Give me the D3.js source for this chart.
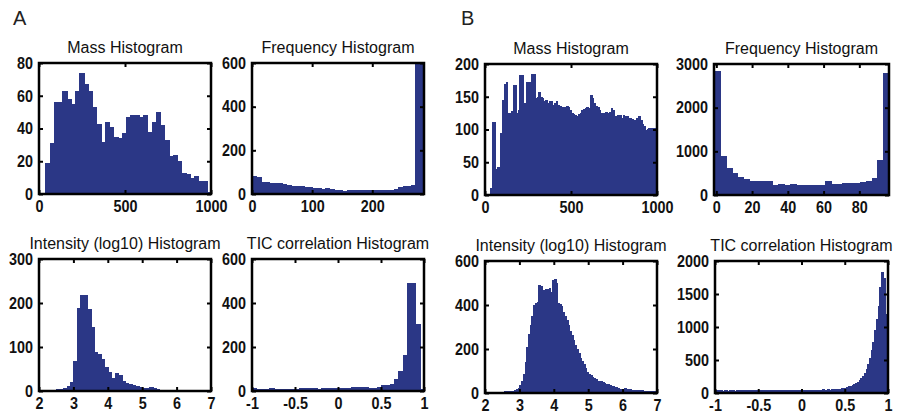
<!DOCTYPE html>
<html>
<head>
<meta charset="utf-8">
<script src="https://cdn.jsdelivr.net/npm/d3@7"></script>
<style>
  body { margin: 0; background: #fff; }
  svg { display: block; }
  .title { font-family: "Liberation Sans", Arial, sans-serif; font-size: 16px; fill: #111; }
  .letter { font-family: "Liberation Sans", Arial, sans-serif; font-size: 20px; fill: #222; }
  .axis text { font-family: "Liberation Sans", Arial, sans-serif; font-size: 16.5px; font-weight: bold; fill: #111; }
  .axis path { display: none; }
  .axis line { stroke: #000; stroke-width: 2; }
</style>
</head>
<body>
<div id="chart"></div>
<script>
// ---- data ----
// panel A
var massA = [19,31,56,56,63,58,55,63,74,67,63,53,43,32,44,41,35,34,37,47,48,48,47,48,38,44,50,42,33,23,24,20,13,12,10,11,8,8,1];
var freqA = [84,80,55,57,50,50,50,48,40,38,38,38,33,30,28,28,22,26,24,20,18,16,18,18,20,20,20,20,20,20,20,19,18,24,30,35,38,40,600,600];
var intA = [3,3,3,3,4,5,6,12,20,68,188,218,218,186,145,88,85,72,54,44,30,40,37,22,18,15,14,12,10,7,7,8,6,4,3,3,2,1];
var ticA = [12,10,8,10,12,8,8,10,8,10,10,12,12,14,12,10,12,12,14,14,14,14,14,16,18,18,16,14,14,16,26,28,30,55,90,165,490,490,305,10];

// panel B
var massB = [10,112,112,40,42,42,95,145,170,172,125,125,128,168,168,125,130,183,183,140,
  130,172,172,140,185,185,148,150,158,150,148,143,145,140,143,143,138,141,143,138,
  136,135,135,134,136,135,130,125,124,122,121,123,125,130,132,133,134,133,153,148,
  140,136,134,130,125,125,124,126,125,126,133,130,120,118,122,122,117,122,120,120,
  118,118,116,115,114,118,120,115,108,105,100,101,103,102,102,103,101];
var freqB = [2850,900,620,500,420,370,330,320,320,320,240,245,240,245,235,225,230,240,225,310,250,250,270,270,275,300,330,380,800,2800];
var intB = [4,4,5,5,5,5,6,6,6,6,6,7,7,8,8,9,10,14,18,25,
  35,55,85,140,210,270,310,350,400,410,415,490,488,465,470,475,472,478,460,515,
  518,500,410,405,395,370,350,330,310,280,265,240,220,200,180,160,145,130,115,95,
  88,80,75,68,62,55,52,55,48,45,42,40,36,34,30,28,26,22,20,18,
  20,22,20,18,16,15,14,15,13,12,14,12,11,10,11,10,9,8,8,7];
var ticB = [38,36,40,38,37,40,39,36,38,40,38,37,40,41,38,39,40,38,40,42,
  40,41,39,42,40,41,43,40,42,44,42,43,41,44,42,45,43,44,46,43,
  44,45,47,44,46,48,45,47,46,48,50,47,49,51,48,50,52,49,51,53,
  50,52,54,51,53,55,52,54,56,54,57,60,65,70,75,80,90,100,110,120,
  135,150,170,195,225,260,310,370,440,530,650,780,950,1120,1320,1600,1840,1750,1200,590];

// bin starts and widths (x units)
var binStart = { massA: 37, freqA: 0, intA: 2.1, ticA: -1, massB: 30, freqB: -1.2, intB: 2, ticB: -1 };
var binWidth = { massA: 24.7, freqA: 7.15, intA: 0.1, ticA: 0.05, massB: 10, freqB: 3.26, intB: 0.05, ticB: 0.02 };

// axis ranges and tick labels
var titles = ["Mass Histogram", "Frequency Histogram", "Intensity (log10) Histogram", "TIC correlation Histogram"];
var xDomains = { massA: [0, 1000], freqA: [0, 286], intA: [2, 7], ticA: [-1, 1],
                 massB: [0, 1000], freqB: [-1.3, 96.6], intB: [2, 7], ticB: [-1, 1] };
var yDomains = { massA: [0, 80], freqA: [0, 600], intA: [0, 300], ticA: [0, 600],
                 massB: [0, 200], freqB: [0, 3000], intB: [0, 600], ticB: [0, 2000] };
var xTicks = { massA: [0, 500, 1000], freqA: [0, 100, 200], intA: [2, 3, 4, 5, 6, 7], ticA: [-1, -0.5, 0, 0.5, 1],
               massB: [0, 500, 1000], freqB: [0, 20, 40, 60, 80], intB: [2, 3, 4, 5, 6, 7], ticB: [-1, -0.5, 0, 0.5, 1] };
var yTicks = { massA: [0, 20, 40, 60, 80], freqA: [0, 200, 400, 600], intA: [0, 100, 200, 300], ticA: [0, 200, 400, 600],
               massB: [0, 50, 100, 150, 200], freqB: [0, 1000, 2000, 3000], intB: [0, 200, 400, 600], ticB: [0, 500, 1000, 1500, 2000] };

var counts = { massA: massA, freqA: freqA, intA: intA, ticA: ticA, massB: massB, freqB: freqB, intB: intB, ticB: ticB };

// ---- layout ----
var W = 904, H = 414;
var barColor = "#2b3786";

var panels = [
  { key: "massA", title: 0, left: 39,  right: 211, top: 63,  bottom: 194 },
  { key: "freqA", title: 1, left: 252, right: 424, top: 63,  bottom: 194 },
  { key: "intA",  title: 2, left: 39,  right: 211, top: 259, bottom: 391 },
  { key: "ticA",  title: 3, left: 252, right: 424, top: 259, bottom: 391 },
  { key: "massB", title: 0, left: 485, right: 657, top: 64,  bottom: 195 },
  { key: "freqB", title: 1, left: 714, right: 889, top: 64,  bottom: 195 },
  { key: "intB",  title: 2, left: 485, right: 657, top: 261, bottom: 393 },
  { key: "ticB",  title: 3, left: 715, right: 888, top: 261, bottom: 393 }
];

var svg = d3.select("#chart").append("svg")
    .attr("width", W)
    .attr("height", H);

svg.append("text").attr("class", "letter").attr("x", 13).attr("y", 25).text("A");
svg.append("text").attr("class", "letter").attr("x", 461).attr("y", 25).text("B");

var fmt = function(d) { return String(d); };

// squeeze tick labels a little, the original face is condensed
function narrowLabels(sel) {
    sel.selectAll("text").each(function() {
        var t = d3.select(this);
        var tx = +t.attr("x") || 0;
        t.attr("x", tx / 0.87).attr("transform", "scale(0.87,1)");
    });
}

panels.forEach(function(p, pi) {
    var w = p.right - p.left, h = p.bottom - p.top;
    var g = svg.append("g").attr("transform", "translate(" + p.left + "," + p.top + ")");

    var x = d3.scaleLinear().domain(xDomains[p.key]).range([0, w]);
    var y = d3.scaleLinear().domain(yDomains[p.key]).range([h, 0]);

    g.append("clipPath").attr("id", "clip" + pi)
        .append("rect").attr("width", w).attr("height", h);

    var bins = counts[p.key].map(function(c, i) {
        var x0 = binStart[p.key] + i * binWidth[p.key];
        return { x0: x0, x1: x0 + binWidth[p.key], count: c };
    });

    g.append("g").attr("clip-path", "url(#clip" + pi + ")")
        .attr("shape-rendering", "crispEdges")
        .selectAll("rect")
        .data(bins)
        .enter().append("rect")
        .attr("x", function(d) { return x(d.x0); })
        .attr("width", function(d) { return x(d.x1) - x(d.x0) + 1; })
        .attr("y", function(d) { return y(Math.min(d.count, yDomains[p.key][1])); })
        .attr("height", function(d) { return h - y(Math.min(d.count, yDomains[p.key][1])); })
        .attr("fill", barColor);

    // axes with inward ticks, MATLAB style
    g.append("g").attr("class", "axis")
        .attr("transform", "translate(0," + h + ")")
        .call(d3.axisBottom(x).tickValues(xTicks[p.key]).tickFormat(fmt).tickSize(-4).tickPadding(6))
        .call(narrowLabels);
    g.append("g").attr("class", "axis")
        .call(d3.axisTop(x).tickValues(xTicks[p.key]).tickFormat("").tickSize(-4));
    g.append("g").attr("class", "axis")
        .call(d3.axisLeft(y).tickValues(yTicks[p.key]).tickFormat(fmt).tickSize(-4).tickPadding(6))
        .call(narrowLabels);
    g.append("g").attr("class", "axis")
        .attr("transform", "translate(" + w + ",0)")
        .call(d3.axisRight(y).tickValues(yTicks[p.key]).tickFormat("").tickSize(-4));

    g.append("rect")
        .attr("width", w).attr("height", h)
        .attr("fill", "none")
        .attr("stroke", "#000")
        .attr("stroke-width", 2.5);

    g.append("text").attr("class", "title")
        .attr("x", w / 2).attr("y", -10)
        .attr("text-anchor", "middle")
        .text(titles[p.title]);
});
</script>
</body>
</html>
